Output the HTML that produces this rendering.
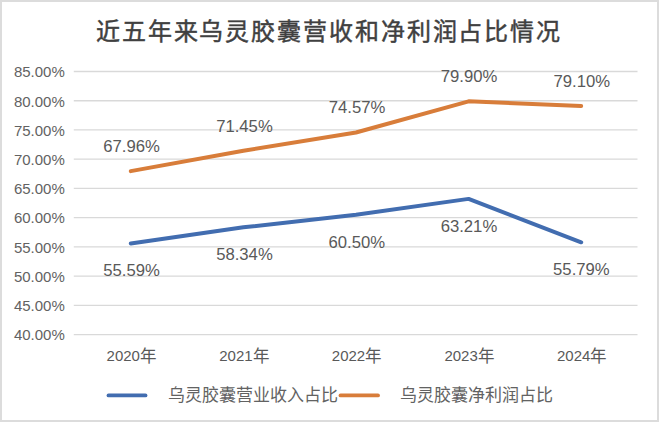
<!DOCTYPE html>
<html lang="zh-CN"><head><meta charset="utf-8"><style>
html,body{margin:0;padding:0;background:#fff;}
svg{display:block;font-family:"Liberation Sans",sans-serif;}
</style></head><body>
<svg width="660" height="423" viewBox="0 0 660 423">
<rect x="0" y="0" width="660" height="423" fill="#fff"/>
<rect x="1" y="1" width="657" height="420" fill="none" stroke="#dcdcdc" stroke-width="2"/>
<text x="329" y="40" text-anchor="middle" font-size="24" letter-spacing="1.9" font-weight="500" fill="#404040" stroke="#404040" stroke-width="0.45">近五年来乌灵胶囊营收和净利润占比情况</text>
<g stroke="#d9d9d9" stroke-width="1.3"><line x1="73.8" x2="637.5" y1="71.50" y2="71.50"/><line x1="73.8" x2="637.5" y1="100.73" y2="100.73"/><line x1="73.8" x2="637.5" y1="129.96" y2="129.96"/><line x1="73.8" x2="637.5" y1="159.19" y2="159.19"/><line x1="73.8" x2="637.5" y1="188.42" y2="188.42"/><line x1="73.8" x2="637.5" y1="217.65" y2="217.65"/><line x1="73.8" x2="637.5" y1="246.88" y2="246.88"/><line x1="73.8" x2="637.5" y1="276.11" y2="276.11"/><line x1="73.8" x2="637.5" y1="305.34" y2="305.34"/><line x1="73.8" x2="637.5" y1="334.57" y2="334.57"/></g>
<g font-size="15" fill="#626262" text-anchor="end"><text x="64.8" y="77.30">85.00%</text><text x="64.8" y="106.53">80.00%</text><text x="64.8" y="135.76">75.00%</text><text x="64.8" y="164.99">70.00%</text><text x="64.8" y="194.22">65.00%</text><text x="64.8" y="223.45">60.00%</text><text x="64.8" y="252.68">55.00%</text><text x="64.8" y="281.91">50.00%</text><text x="64.8" y="311.14">45.00%</text><text x="64.8" y="340.37">40.00%</text></g>
<g font-size="15" fill="#595959" text-anchor="middle"><text x="131.75" y="361">2020<tspan font-size="16.5" dy="1">年</tspan></text><text x="244.40" y="361">2021<tspan font-size="16.5" dy="1">年</tspan></text><text x="357.00" y="361">2022<tspan font-size="16.5" dy="1">年</tspan></text><text x="469.60" y="361">2023<tspan font-size="16.5" dy="1">年</tspan></text><text x="582.20" y="361">2024<tspan font-size="16.5" dy="1">年</tspan></text></g>
<polyline points="130.80,243.43 243.40,227.35 356.00,214.73 468.60,198.88 581.20,242.26" fill="none" stroke="#426db0" stroke-width="4" stroke-linecap="round" stroke-linejoin="round"/>
<polyline points="130.80,171.12 243.40,150.71 356.00,132.47 468.60,101.31 581.20,105.99" fill="none" stroke="#d87d3a" stroke-width="4" stroke-linecap="round" stroke-linejoin="round"/>
<g font-size="16.7" fill="#595959" text-anchor="middle"><text x="131.55" y="151.92">67.96%</text><text x="244.45" y="131.51">71.45%</text><text x="357.10" y="113.27">74.57%</text><text x="469.10" y="82.11">79.90%</text><text x="581.75" y="86.79">79.10%</text><text x="131.60" y="276.23">55.59%</text><text x="244.45" y="260.15">58.34%</text><text x="356.75" y="247.53">60.50%</text><text x="468.95" y="231.68">63.21%</text><text x="581.40" y="275.06">55.79%</text></g>
<line x1="108.5" y1="395.4" x2="145.5" y2="395.4" stroke="#426db0" stroke-width="3.8" stroke-linecap="round"/>
<line x1="340.5" y1="395.4" x2="378" y2="395.4" stroke="#d87d3a" stroke-width="3.8" stroke-linecap="round"/>
<g font-size="17" fill="#626262"><text x="168" y="401">乌灵胶囊营业收入占比</text><text x="400" y="401">乌灵胶囊净利润占比</text></g>
</svg>
</body></html>
